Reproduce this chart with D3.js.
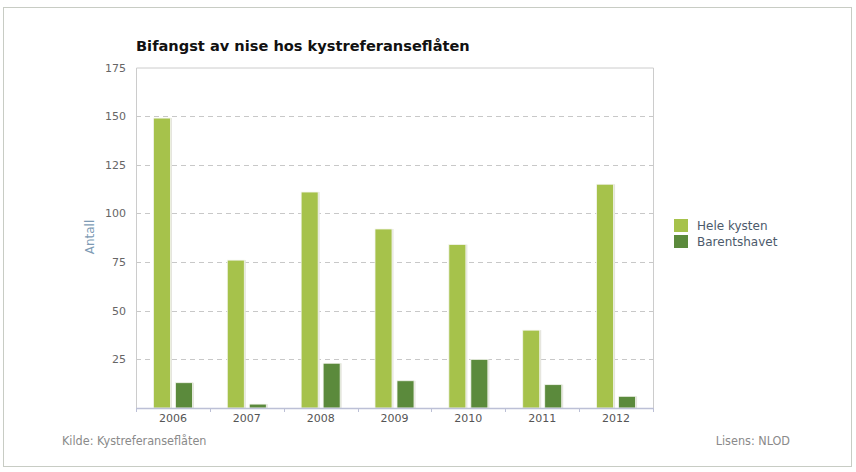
<!DOCTYPE html>
<html><head><meta charset="utf-8">
<script src="https://cdn.jsdelivr.net/npm/d3@7"></script>
<style>body{margin:0;background:#fff}svg{display:block}</style>
</head><body>
<svg id="c" width="856" height="472"></svg>
<script>
const years = ["2006","2007","2008","2009","2010","2011","2012"];
const heleKysten = [149, 76, 111, 92, 84, 40, 115];
const barentshavet = [13, 2, 23, 14, 25, 12, 6];
const seriesNames = ["Hele kysten", "Barentshavet"];
const seriesColors = ["#a6c24b", "#5b8a3c"];
const yTicks = [25, 50, 75, 100, 125, 150, 175];

const svg = d3.select("#c");
const font = "DejaVu Sans, Verdana, sans-serif";
const m = {l:136, r:653, t:67.5, b:408};

svg.append("rect").attr("x",3.5).attr("y",7.5).attr("width",848).attr("height",459)
  .attr("fill","#fff").attr("stroke","#c8ccc4");

svg.append("text").attr("x",136).attr("y",51).attr("font-family",font)
  .attr("font-weight","bold").attr("font-size",14.6).attr("fill","#111")
  .text("Bifangst av nise hos kystreferanseflåten");

const x = d3.scaleBand().domain(years).range([m.l, m.r]);
const y = d3.scaleLinear().domain([0,175]).range([m.b, m.t]);
const inner = 39;
const xs = d3.scaleBand().domain(seriesNames)
  .range([(x.bandwidth()-inner)/2, (x.bandwidth()+inner)/2]).paddingInner(5/22);

// grid
svg.append("g").selectAll("line").data(yTicks.filter(d=>d<175)).join("line")
  .attr("x1",m.l).attr("x2",m.r).attr("y1",d=>Math.round(y(d))+0.5).attr("y2",d=>Math.round(y(d))+0.5)
  .attr("stroke","#c8c8c8").attr("stroke-dasharray","5,4");

// frame
svg.append("path").attr("d",`M${m.l+0.5},${m.b}V${m.t+0.5}H${m.r+0.5}V${m.b}`)
  .attr("fill","none").attr("stroke","#cccccc");

// y labels
const ya = svg.append("g").attr("transform",`translate(${m.l},0)`)
  .call(d3.axisLeft(y).tickValues(yTicks).tickSize(0).tickPadding(10));
ya.select(".domain").remove();
ya.selectAll("text").attr("font-family",font).attr("font-size",11).attr("fill","#666");

// bars
const data = years.map((yr,i)=>({yr, vals:[heleKysten[i], barentshavet[i]]}));
const g = svg.append("g").selectAll("g").data(data).join("g")
  .attr("transform",d=>`translate(${x(d.yr)},0)`);
const bars = g.selectAll("g").data(d=>d.vals.map((v,j)=>({v, s:seriesNames[j], c:seriesColors[j]}))).join("g");
bars.append("rect")
  .attr("x",d=>xs(d.s)+1.5).attr("width",xs.bandwidth()).attr("y",d=>y(d.v)).attr("height",d=>m.b-y(d.v))
  .attr("fill","#e4e4dc");
bars.append("rect")
  .attr("x",d=>xs(d.s)).attr("width",xs.bandwidth()).attr("y",d=>y(d.v)).attr("height",d=>m.b-y(d.v))
  .attr("fill",d=>d.c).attr("stroke","#f4f6ee").attr("stroke-width",0.8);

// x axis
const xa = svg.append("g").attr("transform",`translate(0,${m.b})`)
  .call(d3.axisBottom(x).tickSize(0).tickPadding(6));
xa.select(".domain").attr("stroke","#bcc0d6").attr("stroke-width",1.5);
xa.selectAll("text").attr("font-family",font).attr("font-size",11).attr("fill","#555");
svg.append("g").selectAll("line").data(d3.range(years.length+1)).join("line")
  .attr("x1",i=>Math.round(m.l+i*x.step())+0.5).attr("x2",i=>Math.round(m.l+i*x.step())+0.5)
  .attr("y1",m.b).attr("y2",m.b+4).attr("stroke","#bcc0d6");

// y title
svg.append("text").attr("transform","translate(94,237) rotate(-90)").attr("text-anchor","middle")
  .attr("font-family",font).attr("font-size",12).attr("fill","#7d9ab4").text("Antall");

// legend
const lg = svg.append("g").selectAll("g").data(seriesNames).join("g")
  .attr("transform",(d,i)=>`translate(674,${219+i*16})`);
lg.append("rect").attr("width",14).attr("height",13).attr("fill",(d,i)=>seriesColors[i]);
lg.append("text").attr("x",23).attr("y",11).attr("font-family",font).attr("font-size",12)
  .attr("fill","#4c5a6b").text(d=>d);

// footer
svg.append("text").attr("x",62).attr("y",445).attr("font-family","DejaVu Sans Condensed, DejaVu Sans, sans-serif")
  .attr("font-size",12.5).attr("fill","#8a8a8a").text("Kilde: Kystreferanseflåten");
svg.append("text").attr("x",790).attr("y",445).attr("text-anchor","end").attr("font-family","DejaVu Sans Condensed, DejaVu Sans, sans-serif")
  .attr("font-size",12.5).attr("fill","#8a8a8a").text("Lisens: NLOD");
</script>
</body></html>
